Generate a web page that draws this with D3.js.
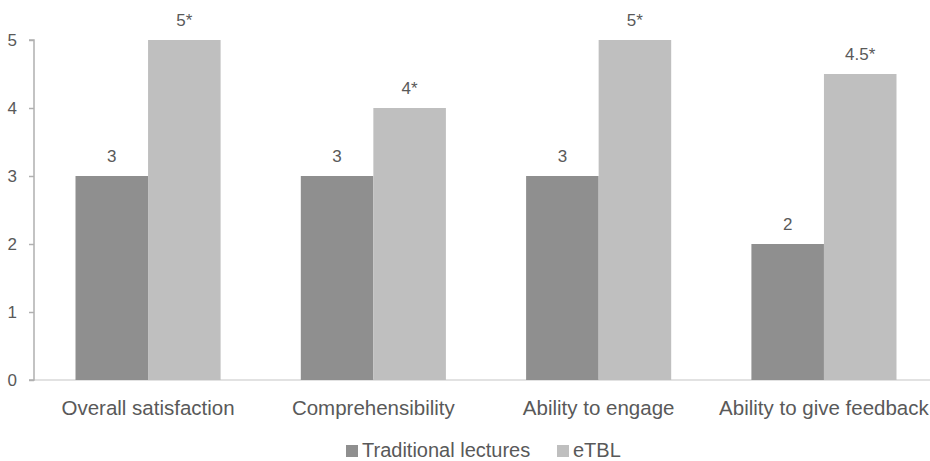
<!DOCTYPE html>
<html><head><meta charset="utf-8">
<script src="https://cdn.jsdelivr.net/npm/d3@7"></script>
<style>body{margin:0;background:#fff}svg{display:block;font-family:"Liberation Sans",Arial,sans-serif}</style>
</head><body><svg id="c" width="930" height="461"></svg>
<script>
const categories = ["Overall satisfaction","Comprehensibility","Ability to engage","Ability to give feedback"];
const seriesNames = ["Traditional lectures","eTBL"];
const traditional = [3,3,3,2];
const etbl = [5,4,5,4.5];
const traditionalLabels = ["3","3","3","2"];
const etblLabels = ["5*","4*","5*","4.5*"];
const yTicks = [0,1,2,3,4,5];
const colors = ["#8f8f8f","#bfbfbf"];

const svg = d3.select("#c");
const x0 = 35.4, x1 = 936.6, yTop = 40, yBot = 380;
const x = d3.scaleBand().domain(categories).range([x0,x1]).paddingInner(0.356).paddingOuter(0.178);
const xs = d3.scaleBand().domain(seriesNames).range([0,x.bandwidth()]);
const y = d3.scaleLinear().domain([0,5]).range([yBot,yTop]);
const textCol = "#595959";

// baseline
svg.append("line").attr("x1",34).attr("x2",930).attr("y1",y(0)).attr("y2",y(0)).attr("stroke","#d9d9d9").attr("stroke-width",1.5);

// y axis
const ya = svg.append("g").attr("transform","translate(34,0)").call(d3.axisLeft(y).tickValues(yTicks).tickSize(5).tickPadding(12).tickFormat(d3.format("d")));
ya.select(".domain").attr("stroke","#b0b0b0").attr("stroke-width",1.5).attr("d",`M-5,${y(5)}H0V${y(0)}H-5`);
ya.selectAll(".tick line").attr("stroke","#b0b0b0").attr("stroke-width",1.5);
ya.selectAll(".tick text").attr("fill",textCol).attr("font-size",17).attr("font-family","Liberation Sans, Arial, sans-serif");

const data = categories.map((c,i)=>({c, vals:[{s:seriesNames[0],v:traditional[i],l:traditionalLabels[i]},{s:seriesNames[1],v:etbl[i],l:etblLabels[i]}]}));
const g = svg.append("g").selectAll("g").data(data).join("g").attr("transform",d=>`translate(${x(d.c)},0)`);
g.selectAll("rect").data(d=>d.vals).join("rect")
  .attr("x",d=>xs(d.s)).attr("width",xs.bandwidth())
  .attr("y",d=>y(d.v)).attr("height",d=>y(0)-y(d.v))
  .attr("fill",(d,i)=>colors[i]);
g.selectAll("text.v").data(d=>d.vals).join("text").attr("class","v")
  .attr("x",d=>xs(d.s)+xs.bandwidth()/2).attr("y",d=>y(d.v)-14)
  .attr("text-anchor","middle").attr("font-size",17).attr("fill",textCol).text(d=>d.l);

// category labels
svg.append("g").selectAll("text").data(categories).join("text")
  .attr("x",d=>x(d)+x.bandwidth()/2).attr("y",415).attr("text-anchor","middle")
  .attr("font-size",20.5).attr("fill",textCol).text(d=>d);

// legend
const legX = [346,557];
const lg = svg.append("g").selectAll("g").data(seriesNames).join("g").attr("transform",(d,i)=>`translate(${legX[i]},0)`);
lg.append("rect").attr("x",0).attr("y",445).attr("width",12).attr("height",12).attr("fill",(d,i)=>colors[i]);
lg.append("text").attr("x",16).attr("y",457).attr("font-size",20).attr("fill",textCol).text(d=>d);
</script></body></html>
